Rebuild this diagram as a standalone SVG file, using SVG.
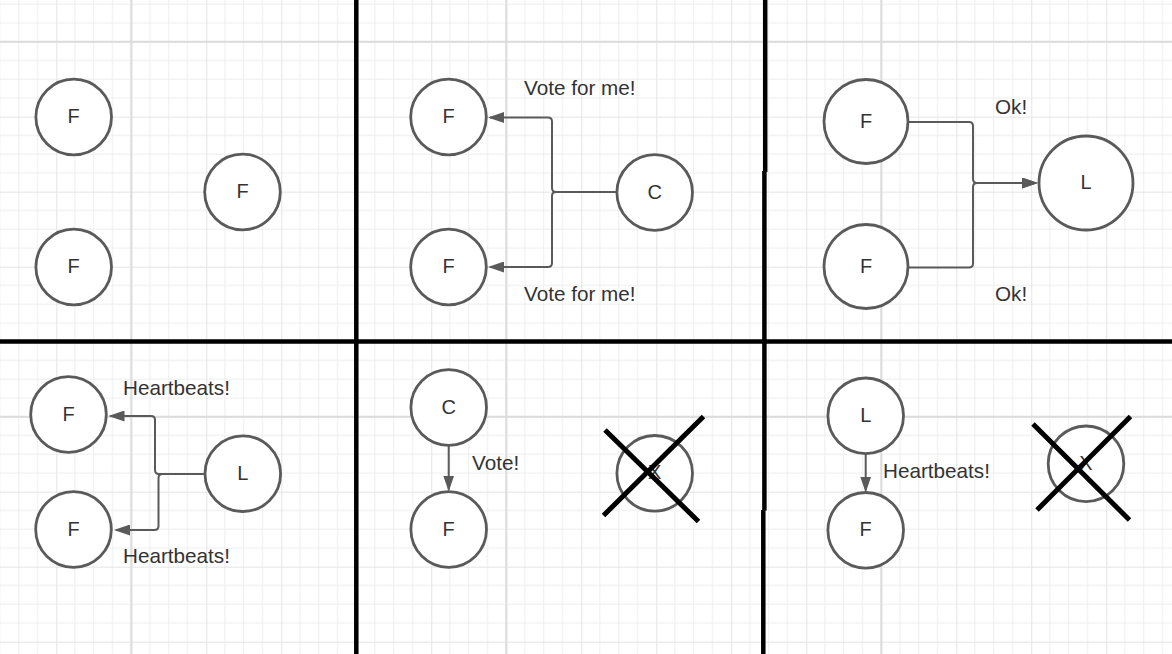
<svg xmlns="http://www.w3.org/2000/svg" width="1172" height="654" viewBox="0 0 1172 654">
  <style>
    .node circle { fill: #ffffff; stroke: #5a5a5a; stroke-width: 2.8; }
    .node text, .label { font-family: "Liberation Sans", Arial, sans-serif; font-size: 20px; fill: #333333; }
    .label { font-size: 20.7px; }
    .node text { text-anchor: middle; }
    .conn { fill: none; stroke: #5a5a5a; stroke-width: 2; }
    .arrow { marker-end: url(#ah); }
    .cross { stroke: #000000; stroke-width: 5; stroke-linecap: butt; }
    .divider { stroke: #000000; stroke-width: 4.5; }
    .heavy { stroke: #dcdcdc; stroke-width: 2; }
  </style>
  <defs>
    <pattern id="grid" patternUnits="userSpaceOnUse" x="56.25" y="41.67" width="75" height="75">
      <path d="M18.75 0V75M37.5 0V75M56.25 0V75M0 18.75H75M0 37.5H75M0 56.25H75" stroke="#ededed" stroke-width="1" fill="none"/>
      <path d="M0.5 0V75M0 0.5H75" stroke="#e4e4e4" stroke-width="1" fill="none"/>
    </pattern>
    <marker id="ah" markerUnits="userSpaceOnUse" markerWidth="16" markerHeight="11" refX="14" refY="5.5" orient="auto">
      <path d="M0 0L16 5.5L0 11z" fill="#5a5a5a"/>
    </marker>
  </defs>

  <rect x="0" y="0" width="1172" height="654" fill="#ffffff"/>
  <rect x="0" y="0" width="1172" height="654" fill="url(#grid)"/>
  <g id="grid-major">
    <line class="heavy" x1="131.25" y1="0" x2="131.25" y2="654"/>
    <line class="heavy" x1="506.25" y1="0" x2="506.25" y2="654"/>
    <line class="heavy" x1="881.25" y1="0" x2="881.25" y2="654"/>
    <line class="heavy" x1="0" y1="41.67" x2="1172" y2="41.67"/>
    <line class="heavy" x1="0" y1="416.67" x2="1172" y2="416.67"/>
  </g>

  <g id="connectors">
    <path class="conn arrow" d="M616.5 192H556Q552 192 552 188V121.5Q552 117.5 548 117.5H490"/>
    <path class="conn arrow" d="M616.5 192H556Q552 192 552 196V263Q552 267 548 267H490"/>
    <path class="conn arrow" d="M908 122H969Q973 122 973 126V179Q973 183 977 183H1036"/>
    <path class="conn arrow" d="M908 267.5H969Q973 267.5 973 263.5V187Q973 183 977 183H1036"/>
    <path class="conn arrow" d="M205 474H159Q155 474 155 470V420Q155 416 151 416H110.5"/>
    <path class="conn arrow" d="M205 474H162.5Q158.5 474 158.5 478V526Q158.5 530 154.5 530H116"/>
    <path class="conn arrow" d="M448.7 445V489.5"/>
    <path class="conn arrow" d="M865.7 453.5V490.5"/>
  </g>

  <g id="labels">
    <text class="label" x="524" y="95">Vote for me!</text>
    <text class="label" x="524" y="301">Vote for me!</text>
    <text class="label" x="995" y="114">Ok!</text>
    <text class="label" x="995" y="301">Ok!</text>
    <text class="label" x="123" y="395">Heartbeats!</text>
    <text class="label" x="123" y="563">Heartbeats!</text>
    <text class="label" x="472" y="470">Vote!</text>
    <text class="label" x="883" y="478">Heartbeats!</text>
  </g>

  <g id="p1-f1" class="node"><circle cx="73.7" cy="117" r="37.8"/><text x="73.7" y="123">F</text></g>
  <g id="p1-f2" class="node"><circle cx="242.5" cy="192" r="37.8"/><text x="242.5" y="198">F</text></g>
  <g id="p1-f3" class="node"><circle cx="73.7" cy="267" r="37.8"/><text x="73.7" y="273">F</text></g>

  <g id="p2-f1" class="node"><circle cx="448.5" cy="117" r="37.8"/><text x="448.5" y="123">F</text></g>
  <g id="p2-f2" class="node"><circle cx="448.5" cy="267" r="37.8"/><text x="448.5" y="273">F</text></g>
  <g id="p2-c" class="node"><circle cx="654.7" cy="192.5" r="37.8"/><text x="654.7" y="198.5">C</text></g>

  <g id="p3-f1" class="node"><circle cx="866" cy="121.5" r="42"/><text x="866" y="127.5">F</text></g>
  <g id="p3-f2" class="node"><circle cx="866" cy="266.5" r="42"/><text x="866" y="272.5">F</text></g>
  <g id="p3-l" class="node"><circle cx="1086" cy="183" r="47"/><text x="1086" y="189">L</text></g>

  <g id="p4-f1" class="node"><circle cx="68.5" cy="414.5" r="37.8"/><text x="68.5" y="420.5">F</text></g>
  <g id="p4-f2" class="node"><circle cx="73.5" cy="529.5" r="37.8"/><text x="73.5" y="535.5">F</text></g>
  <g id="p4-l" class="node"><circle cx="242.8" cy="473.7" r="37.8"/><text x="242.8" y="479.7">L</text></g>

  <g id="p5-c" class="node"><circle cx="448.7" cy="407.5" r="37.8"/><text x="448.7" y="413.5">C</text></g>
  <g id="p5-f" class="node"><circle cx="448.7" cy="529.5" r="37.8"/><text x="448.7" y="535.5">F</text></g>
  <g id="p5-x" class="node"><circle cx="654.7" cy="473.3" r="37.8"/><text x="654.7" y="479.3">X</text>
    <line class="cross" x1="605" y1="430" x2="698.5" y2="521.5"/>
    <line class="cross" x1="703.5" y1="416.5" x2="603.5" y2="515.5"/>
  </g>

  <g id="p6-l" class="node"><circle cx="865.7" cy="415.8" r="37.8"/><text x="865.7" y="421.8">L</text></g>
  <g id="p6-f" class="node"><circle cx="865.7" cy="530.3" r="37.8"/><text x="865.7" y="536.3">F</text></g>
  <g id="p6-x" class="node"><circle cx="1086" cy="463.8" r="37.8"/><text x="1086" y="469.8">X</text>
    <line class="cross" x1="1033" y1="424" x2="1129.5" y2="520"/>
    <line class="cross" x1="1130.5" y1="416.5" x2="1037" y2="510"/>
  </g>

  <g id="dividers">
    <line class="divider" x1="356.3" y1="0" x2="356.3" y2="654"/>
    <line class="divider" x1="0" y1="341.5" x2="1172" y2="341.5"/>
    <line class="divider" x1="765.2" y1="0" x2="765.2" y2="172"/>
    <line class="divider" x1="764.4" y1="171" x2="764.4" y2="510.5"/>
    <line class="divider" x1="763.3" y1="510" x2="763.3" y2="654"/>
  </g>
</svg>
